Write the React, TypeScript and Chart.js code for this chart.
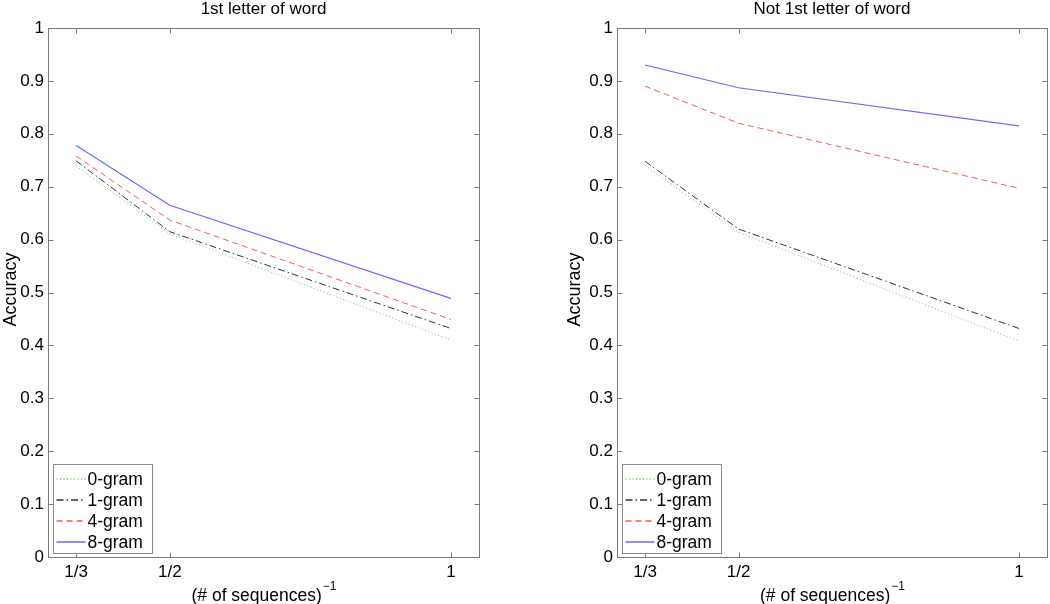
import React, { useEffect, useRef } from 'react';
import { Chart, registerables } from 'chart.js';

Chart.register(...registerables);

// ---------- data ----------
const X_VALUES = [1 / 3, 1 / 2, 1];
const X_TICK_LABELS = ['1/3', '1/2', '1'];
const SERIES_LABELS = ['0-gram', '1-gram', '4-gram', '8-gram'];

const FIRST_0GRAM = [0.739, 0.611, 0.41];
const FIRST_1GRAM = [0.749, 0.615, 0.432];
const FIRST_4GRAM = [0.758, 0.637, 0.449];
const FIRST_8GRAM = [0.778, 0.665, 0.489];

const NOTFIRST_0GRAM = [0.74, 0.614, 0.408];
const NOTFIRST_1GRAM = [0.748, 0.62, 0.432];
const NOTFIRST_4GRAM = [0.89, 0.82, 0.697];
const NOTFIRST_8GRAM = [0.93, 0.887, 0.815];

const PANEL_TITLES = ['1st letter of word', 'Not 1st letter of word'];
const Y_TITLE = 'Accuracy';
const X_TITLE_MAIN = '(# of sequences)';
const X_TITLE_SUP = '\u22121';

// ---------- styles ----------
const FONT = "'Liberation Sans', Arial, Helvetica, sans-serif";
const SERIES_STYLES = [
  { color: 'rgb(80,215,80)', dash: [1, 2.5], width: 1 },
  { color: 'rgb(50,50,50)', dash: [7, 3, 1.5, 3], width: 1 },
  { color: 'rgb(255,85,85)', dash: [6, 4], width: 1 },
  { color: 'rgb(105,105,255)', dash: [] as number[], width: 1.2 },
];
const AXIS_COLOR = '#7a7a7a';

const decorPlugin = {
  id: 'decor',
  afterDraw(chart: any, _args: any, opts: any) {
    const { ctx, chartArea: a, scales } = chart;
    const line = (x1: number, y1: number, x2: number, y2: number) => {
      ctx.beginPath();
      ctx.moveTo(x1, y1);
      ctx.lineTo(x2, y2);
      ctx.stroke();
    };
    ctx.save();
    ctx.strokeStyle = AXIS_COLOR;
    ctx.lineWidth = 1;
    ctx.setLineDash([]);
    const L = Math.round(a.left) + 0.5;
    const R = Math.round(a.right) + 0.5;
    const T = Math.round(a.top) + 0.5;
    const B = Math.round(a.bottom) + 0.5;
    ctx.strokeRect(L, T, R - L, B - T);
    const TL = 5;
    scales.x.ticks.forEach((t: any) => {
      const px = Math.round(scales.x.getPixelForValue(t.value)) + 0.5;
      line(px, B, px, B - TL);
      line(px, T, px, T + TL);
    });
    scales.y.ticks.forEach((t: any) => {
      const py = Math.round(scales.y.getPixelForValue(t.value)) + 0.5;
      line(L, py, L + TL, py);
      line(R, py, R - TL, py);
    });

    // panel title
    ctx.fillStyle = '#000';
    ctx.font = `17px ${FONT}`;
    ctx.textAlign = 'center';
    ctx.textBaseline = 'alphabetic';
    ctx.fillText(opts.title, (a.left + a.right) / 2, 14);

    // y title
    ctx.save();
    ctx.translate(opts.yTitleX, (a.top + a.bottom) / 2 - 3);
    ctx.rotate(-Math.PI / 2);
    ctx.textBaseline = 'middle';
    ctx.font = `18px ${FONT}`;
    ctx.fillText(Y_TITLE, 0, 0);
    ctx.restore();

    // x title with superscript
    ctx.textAlign = 'left';
    ctx.font = `17.5px ${FONT}`;
    const w1 = ctx.measureText(X_TITLE_MAIN).width;
    ctx.font = `12px ${FONT}`;
    const w2 = ctx.measureText(X_TITLE_SUP).width;
    const cx = (a.left + a.right) / 2;
    const x0 = cx - (w1 + w2) / 2;
    ctx.font = `17.5px ${FONT}`;
    ctx.fillText(X_TITLE_MAIN, x0, 601);
    ctx.font = `12px ${FONT}`;
    ctx.fillText(X_TITLE_SUP, x0 + w1 + 1, 590);

    // legend
    const lx = a.left + 4.5;
    const ly = a.bottom - 93;
    const lw = 99;
    const lh = 89;
    ctx.fillStyle = '#fff';
    ctx.fillRect(Math.round(lx) + 0.5, Math.round(ly) + 0.5, lw, lh);
    ctx.strokeStyle = '#8a8a8a';
    ctx.strokeRect(Math.round(lx) + 0.5, Math.round(ly) + 0.5, lw, lh);
    const rows = [15.3, 36, 57, 77.7];
    SERIES_LABELS.forEach((label, i) => {
      const st = SERIES_STYLES[i];
      const y = Math.round(ly + rows[i]);
      ctx.strokeStyle = st.color;
      ctx.lineWidth = st.width + 0.3;
      ctx.setLineDash(st.dash);
      line(lx + 4, y, lx + 33, y);
      ctx.setLineDash([]);
      ctx.fillStyle = '#000';
      ctx.font = `17.5px ${FONT}`;
      ctx.textAlign = 'left';
      ctx.textBaseline = 'middle';
      ctx.fillText(label, lx + 35, y + 1);
    });
    ctx.restore();
  },
};

interface PanelProps {
  title: string;
  series: number[][];
  yAxisWidth: number;
  padRight: number;
  yTitleX: number;
}

function Panel({ title, series, yAxisWidth, padRight, yTitleX }: PanelProps) {
  const ref = useRef<HTMLCanvasElement | null>(null);
  useEffect(() => {
    if (!ref.current) return;
    const chart = new Chart(ref.current, {
      type: 'line',
      data: {
        datasets: series.map((vals, i) => ({
          label: SERIES_LABELS[i],
          data: X_VALUES.map((x, j) => ({ x, y: vals[j] })),
          borderColor: SERIES_STYLES[i].color,
          borderDash: SERIES_STYLES[i].dash,
          borderWidth: SERIES_STYLES[i].width,
          pointRadius: 0,
          fill: false,
          tension: 0,
        })),
      },
      options: {
        animation: false,
        responsive: false,
        maintainAspectRatio: false,
        layout: { padding: { top: 28, right: padRight, bottom: 0, left: 0 } },
        plugins: {
          legend: { display: false },
          tooltip: { enabled: false },
          decor: { title, yTitleX },
        } as any,
        scales: {
          x: {
            type: 'linear',
            min: X_VALUES[0] - 0.05,
            max: X_VALUES[X_VALUES.length - 1] + 0.05,
            afterBuildTicks: (s: any) => {
              s.ticks = X_VALUES.map((v) => ({ value: v }));
            },
            afterFit: (s: any) => {
              s.height = 47;
            },
            ticks: {
              autoSkip: false,
              maxRotation: 0,
              padding: 5,
              color: '#000',
              font: { family: FONT, size: 17 },
              callback: (_v: any, idx: number) => X_TICK_LABELS[idx],
            },
            grid: { display: false, drawTicks: false },
            border: { display: false },
          },
          y: {
            min: 0,
            max: 1,
            afterFit: (s: any) => {
              s.width = yAxisWidth;
            },
            ticks: {
              stepSize: 0.1,
              padding: 4,
              color: '#000',
              font: { family: FONT, size: 17 },
              callback: (v: any) => String(Number(Number(v).toFixed(1))),
            },
            grid: { display: false, drawTicks: false },
            border: { display: false },
          },
        },
      } as any,
      plugins: [decorPlugin],
    });
    return () => chart.destroy();
  }, []);
  return <canvas ref={ref} width={525} height={604} />;
}

export default function App() {
  return (
    <div
      style={{
        position: 'fixed',
        left: 0,
        top: 0,
        width: 1050,
        height: 604,
        background: '#fff',
        overflow: 'hidden',
      }}
    >
      <div style={{ position: 'absolute', left: 0, top: 0, width: 525, height: 604 }}>
        <Panel
          title={PANEL_TITLES[0]}
          series={[FIRST_0GRAM, FIRST_1GRAM, FIRST_4GRAM, FIRST_8GRAM]}
          yAxisWidth={48}
          padRight={46}
          yTitleX={11}
        />
      </div>
      <div style={{ position: 'absolute', left: 525, top: 0, width: 525, height: 604 }}>
        <Panel
          title={PANEL_TITLES[1]}
          series={[NOTFIRST_0GRAM, NOTFIRST_1GRAM, NOTFIRST_4GRAM, NOTFIRST_8GRAM]}
          yAxisWidth={92}
          padRight={3}
          yTitleX={50}
        />
      </div>
    </div>
  );
}
